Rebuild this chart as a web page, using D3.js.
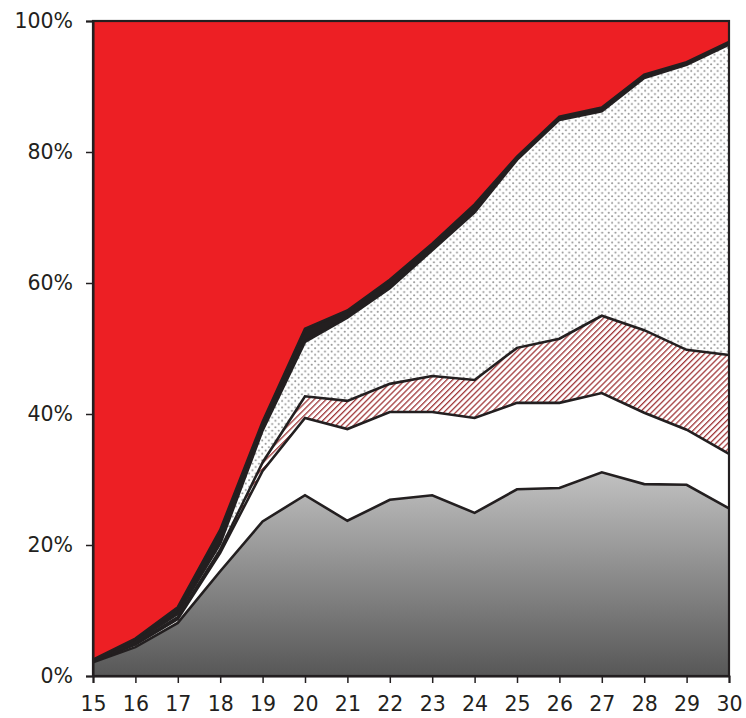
<!DOCTYPE html>
<html>
<head>
<meta charset="utf-8">
<script src="https://cdn.jsdelivr.net/npm/d3@7"></script>
<style>
  html, body { margin: 0; padding: 0; background: #fff; }
  svg { display: block; }
  .tick text { font-family: "DejaVu Sans", Verdana, sans-serif; font-size: 20.5px; fill: #231f20; }
</style>
</head>
<body>
<svg id="chart" width="746" height="718"></svg>
<script>
// ---- data (shares in %, per layer, bottom to top) ----
const years = [15, 16, 17, 18, 19, 20, 21, 22, 23, 24, 25, 26, 27, 28, 29, 30];
const grayLayer   = [2.1, 4.4, 8.1, 16.0, 23.6, 27.6, 23.7, 26.9, 27.6, 24.9, 28.5, 28.7, 31.1, 29.3, 29.2, 25.6];
const whiteLayer  = [0.1, 0.4, 0.6, 2.8, 7.7, 11.8, 14.0, 13.4, 12.7, 14.5, 13.2, 13.0, 12.1, 10.9, 8.4, 8.3];
const hatchLayer  = [0.05, 0.2, 0.3, 0.5, 1.3, 3.3, 4.3, 4.3, 5.5, 5.8, 8.4, 9.8, 11.8, 12.6, 12.2, 15.1];
const dotLayer    = [0.05, 0.2, 0.5, 0.9, 4.9, 8.3, 12.7, 14.6, 19.2, 25.6, 28.7, 33.4, 31.2, 38.5, 43.5, 47.4];
const blackLayer  = [0.2, 0.5, 1.0, 2.1, 1.3, 2.0, 1.1, 1.3, 1.0, 1.2, 0.5, 0.5, 0.6, 0.5, 0.4, 0.4];
const redLayer    = [97.5, 94.3, 89.5, 77.7, 61.2, 47.0, 44.2, 39.5, 34.0, 28.0, 20.7, 14.6, 13.2, 8.2, 6.3, 3.2];
const yTicks = [0, 0.2, 0.4, 0.6, 0.8, 1.0];

const keys = ["gray", "white", "hatch", "dot", "black", "red"];
const table = years.map((yr, i) => ({
  year: yr,
  gray: grayLayer[i], white: whiteLayer[i], hatch: hatchLayer[i],
  dot: dotLayer[i], black: blackLayer[i], red: redLayer[i]
}));

const W = 746, H = 718;
const margin = { top: 21, right: 17, bottom: 42, left: 93 };
const svg = d3.select("#chart");
const defs = svg.append("defs");

// gray gradient
const grad = defs.append("linearGradient")
  .attr("id", "grayGrad").attr("gradientUnits", "userSpaceOnUse")
  .attr("x1", 0).attr("x2", 0).attr("y1", 470).attr("y2", 676);
grad.append("stop").attr("offset", 0).attr("stop-color", "#c2c2c2");
grad.append("stop").attr("offset", 1).attr("stop-color", "#575757");

// hatch pattern (diagonal "\" lines, dark red)
const hp = defs.append("pattern").attr("id", "hatch")
  .attr("patternUnits", "userSpaceOnUse").attr("width", 4.2).attr("height", 4.2)
  .attr("patternTransform", "rotate(45)");
hp.append("rect").attr("width", 4.2).attr("height", 4.2).attr("fill", "#fff");
hp.append("line").attr("x1", 0).attr("y1", 0).attr("x2", 0).attr("y2", 4.2)
  .attr("stroke", "#a1393b").attr("stroke-width", 2.6);

// dot pattern
const dp = defs.append("pattern").attr("id", "dots")
  .attr("patternUnits", "userSpaceOnUse").attr("width", 6.6).attr("height", 6.6);
dp.append("rect").attr("width", 6.6).attr("height", 6.6).attr("fill", "#fff");
dp.append("circle").attr("cx", 1.6).attr("cy", 1.6).attr("r", 1.0).attr("fill", "#8e8e8e");
dp.append("circle").attr("cx", 4.9).attr("cy", 4.9).attr("r", 1.0).attr("fill", "#8e8e8e");

const fills = {
  gray: "url(#grayGrad)", white: "#ffffff", hatch: "url(#hatch)",
  dot: "url(#dots)", black: "#231f20", red: "#ed1f24"
};

const x = d3.scaleLinear().domain([15, 30]).range([margin.left, W - margin.right]);
const y = d3.scaleLinear().domain([0, 1]).range([H - margin.bottom, margin.top]);

const stack = d3.stack().keys(keys).offset(d3.stackOffsetExpand);
const series = stack(table);

const area = d3.area()
  .x(d => x(d.data.year))
  .y0(d => y(d[0]))
  .y1(d => y(d[1]));

svg.append("g").selectAll("path").data(series).join("path")
  .attr("d", area)
  .attr("fill", d => fills[d.key]);

// boundary lines
const line = d3.line().x(d => x(d.data.year)).y(d => y(d[1]));
svg.append("g").selectAll("path").data(series.slice(0, 5)).join("path")
  .attr("d", line)
  .attr("fill", "none")
  .attr("stroke", "#231f20")
  .attr("stroke-width", 2.6)
  .attr("stroke-linejoin", "miter");

// frame
svg.append("rect")
  .attr("x", margin.left).attr("y", margin.top)
  .attr("width", W - margin.left - margin.right)
  .attr("height", H - margin.top - margin.bottom)
  .attr("fill", "none").attr("stroke", "#231f20").attr("stroke-width", 2.2);

// axes
const yAxis = d3.axisLeft(y).tickValues(yTicks).tickFormat(d3.format(".0%"))
  .tickSize(7).tickPadding(13);
const gy = svg.append("g").attr("transform", `translate(${margin.left},0)`).call(yAxis);
gy.select(".domain").attr("stroke", "#231f20").attr("stroke-width", 2);
gy.selectAll(".tick line").attr("stroke", "#231f20").attr("stroke-width", 1.5);

const xAxis = d3.axisBottom(x).tickValues(years).tickFormat(d3.format("d"))
  .tickSize(7).tickPadding(13);
const gx = svg.append("g").attr("transform", `translate(0,${H - margin.bottom})`).call(xAxis);
gx.select(".domain").attr("stroke", "#231f20").attr("stroke-width", 2);
gx.selectAll(".tick line").attr("stroke", "#231f20").attr("stroke-width", 1.5);
</script>
</body>
</html>
